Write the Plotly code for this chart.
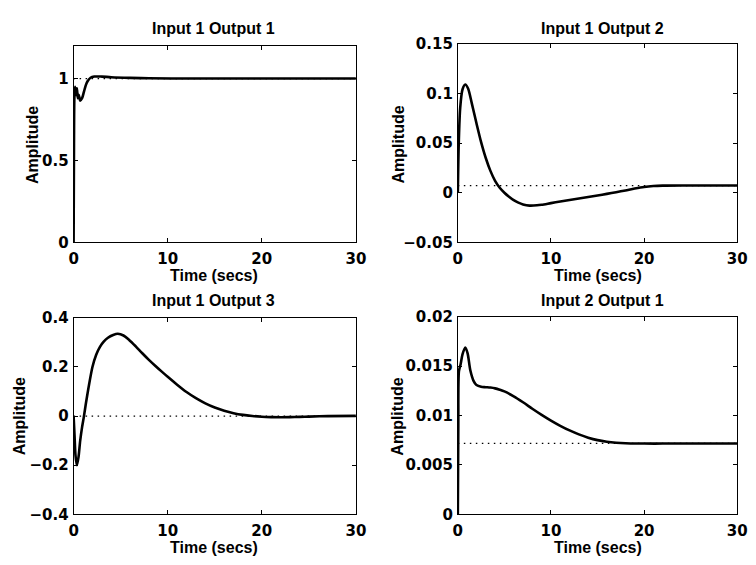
import plotly.graph_objects as go

W, H = 756, 565

# ---------------- data ----------------
t11 = [0, 0.04, 0.08, 0.15, 0.25, 0.35, 0.45, 0.55, 0.7, 0.9, 1.1, 1.3, 1.5, 1.8, 2.2, 3, 4, 6, 8, 12, 20, 30]
y11 = [0, 0.6, 0.88, 0.95, 0.9, 0.94, 0.88, 0.9, 0.865, 0.88, 0.92, 0.96, 0.985, 1.005, 1.012, 1.012, 1.008,
       1.004, 1.002, 1.0, 1.0, 1.0]
ss11 = 1.0

t12 = [0, 0.1, 0.25, 0.5, 0.8, 1.1, 1.5, 2, 2.5, 3, 3.5, 4, 4.5, 5, 5.5, 6, 6.5, 7, 7.7, 8.5, 9, 10, 11, 12, 13,
       14, 15, 16, 17, 18, 19, 20, 21, 22, 24, 30]
y12 = [0, 0.05, 0.085, 0.104, 0.109, 0.105, 0.09, 0.07, 0.051, 0.035, 0.022, 0.012, 0.005, 0.0, -0.004, -0.0075,
       -0.0100, -0.0118, -0.013, -0.0127, -0.0121, -0.0105, -0.0089, -0.0073, -0.0058, -0.0043, -0.0028, -0.0012,
       0.0005, 0.0023, 0.0042, 0.0058, 0.0067, 0.0071, 0.0073, 0.0073]
ss12 = 0.0072

t13 = [0, 0.1, 0.2, 0.35, 0.52, 0.7, 0.9, 1.1, 1.3, 1.56, 2.0, 2.4, 2.8, 3.2, 3.65, 4.2, 4.7, 5.3, 5.9, 6.6, 7.3,
       8, 8.7, 9.4, 10, 11, 12, 13, 14, 15, 16, 17, 18, 19, 20, 21, 22, 23, 24, 25, 27, 30]
y13 = [0, -0.08, -0.16, -0.2, -0.167, -0.1, -0.045, 0.0, 0.05, 0.11, 0.2, 0.25, 0.282, 0.303, 0.319, 0.33, 0.335,
       0.328, 0.31, 0.284, 0.256, 0.229, 0.204, 0.18, 0.16, 0.128, 0.098, 0.073, 0.052, 0.035, 0.022, 0.012, 0.005,
       0.0005, -0.0025, -0.004, -0.0045, -0.004, -0.003, -0.002, 0.0, 0.001]
ss13 = 0.0

t21 = [0, 0.05, 0.12, 0.3, 0.5, 0.8, 1.05, 1.34, 1.7, 2.0, 2.5, 3, 3.5, 4, 4.5, 5, 6, 7, 8, 9, 10, 11, 12, 13, 14,
       15, 16, 17, 18, 19, 20, 22, 25, 30]
y21 = [0, 0.009, 0.0145, 0.0152, 0.0162, 0.0169, 0.0163, 0.0146, 0.0135, 0.0131, 0.01292, 0.01288, 0.01284,
       0.01276, 0.01262, 0.01245, 0.01195, 0.01135, 0.0107, 0.01008, 0.0095, 0.00897, 0.0085, 0.0081, 0.00777,
       0.00752, 0.00736, 0.00726, 0.0072, 0.00718, 0.00717, 0.00717, 0.00718, 0.00718]
ss21 = 0.00718

titles = ["Input 1 Output 1", "Input 1 Output 2", "Input 1 Output 3", "Input 2 Output 1"]
x_ticks = [0, 10, 20, 30]
x_ticktext = ["0", "10", "20", "30"]
y_ticks = [[0, 0.5, 1], [-0.05, 0, 0.05, 0.1, 0.15], [-0.4, -0.2, 0, 0.2, 0.4], [0, 0.005, 0.01, 0.015, 0.02]]
y_ticktext = [["0", "0.5", "1"], ["\u22120.05", "0", "0.05", "0.1", "0.15"],
              ["\u22120.4", "\u22120.2", "0", "0.2", "0.4"], ["0", "0.005", "0.01", "0.015", "0.02"]]
y_ranges = [[0, 1.2], [-0.05, 0.15], [-0.4, 0.4], [0, 0.02]]
x_label = "Time (secs)"
y_label = "Amplitude"

series = [(t11, y11, ss11), (t12, y12, ss12), (t13, y13, ss13), (t21, y21, ss21)]

# ---------------- layout (pixel boxes) ----------------
boxes = [  # left, right, top, bottom in pixels
    (70, 358, 38, 241),
    (462, 747, 36, 241),
    (70, 358, 319, 522),
    (462, 747, 318, 522),
]
title_pos = [(213, 20), (610, 20), (213, 301), (610, 301)]
xlab_pos = [(213, 275), (605, 275), (213, 556), (605, 556)]
ylab_pos = [(28, 140), (401, 140), (15, 421), (401, 421)]

fig = go.Figure()
layout = dict(
    width=W, height=H, margin=dict(l=0, r=0, t=0, b=0),
    paper_bgcolor="white", plot_bgcolor="white", showlegend=False,
    annotations=[],
)

tickfont = dict(family="DejaVu Sans", size=15, color="black", weight="bold")
textfont = dict(family="Liberation Sans, Arial", size=16, color="black", weight="bold")
labfont = dict(family="Liberation Sans, Arial", size=16, color="black", weight="bold")

for i, ((tt, yy, ss), (l, r, tp, bt)) in enumerate(zip(series, boxes)):
    xa = "x" if i == 0 else f"x{i+1}"
    ya = "y" if i == 0 else f"y{i+1}"
    # dotted steady-state line
    fig.add_trace(go.Scatter(x=[0, 30], y=[ss, ss], mode="lines", xaxis=xa, yaxis=ya,
                             line=dict(color="black", width=1.3, dash="1.5px,4.5px"), hoverinfo="skip"))
    fig.add_trace(go.Scatter(x=tt, y=yy, mode="lines", xaxis=xa, yaxis=ya,
                             line=dict(color="black", width=2.6, shape="spline", smoothing=0.8)))
    axkey = "xaxis" if i == 0 else f"xaxis{i+1}"
    aykey = "yaxis" if i == 0 else f"yaxis{i+1}"
    layout[axkey] = dict(
        domain=[l / W, r / W], range=[0, 30], anchor=ya,
        tickvals=x_ticks, ticktext=x_ticktext, ticks="inside", ticklen=4, tickwidth=1,
        tickcolor="black", showline=True, linecolor="black", linewidth=1, mirror="ticks",
        showgrid=False, zeroline=False, tickfont=tickfont, ticklabelstandoff=3,
    )
    layout[aykey] = dict(
        domain=[1 - bt / H, 1 - tp / H], range=y_ranges[i], anchor=xa,
        tickvals=y_ticks[i], ticktext=y_ticktext[i], ticks="inside", ticklen=4, tickwidth=1,
        tickcolor="black", showline=True, linecolor="black", linewidth=1, mirror="ticks",
        showgrid=False, zeroline=False, tickfont=tickfont, ticklabelstandoff=1,
    )
    for (px, py), txt, fnt, ang in [
        (title_pos[i], titles[i], textfont, 0),
        (xlab_pos[i], x_label, labfont, 0),
        (ylab_pos[i], y_label, labfont, -90),
    ]:
        layout["annotations"].append(dict(
            x=px / W, y=1 - py / H, xref="paper", yref="paper", text=txt, showarrow=False,
            xanchor="center", yanchor="middle", font=fnt, textangle=ang,
        ))

fig.update_layout(**layout)
fig.write_html("out.html")
